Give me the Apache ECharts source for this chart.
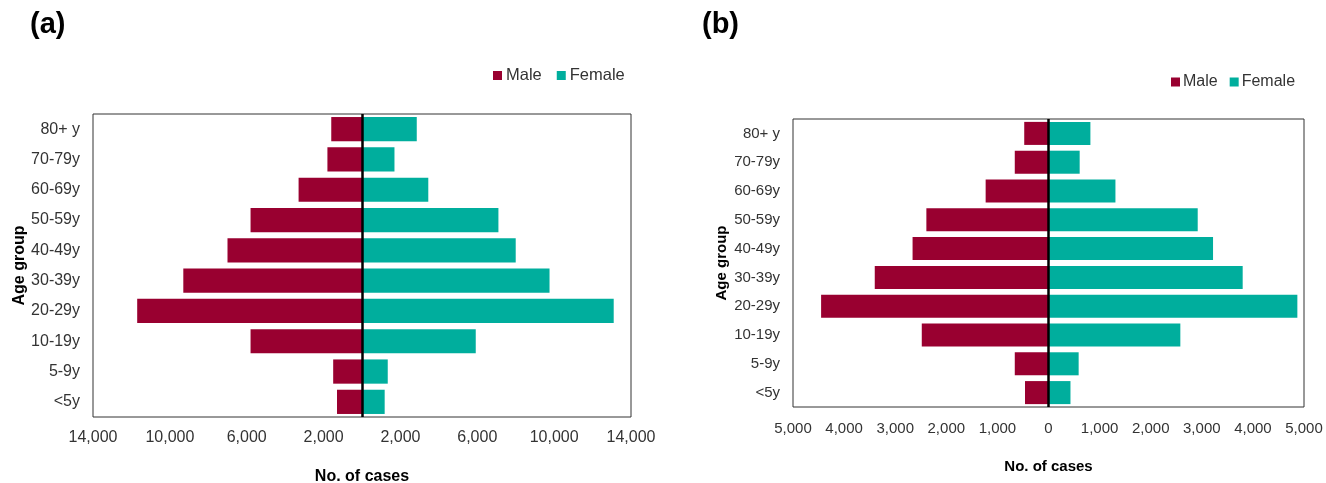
<!DOCTYPE html>
<html>
<head>
<meta charset="utf-8">
<script src="https://cdn.jsdelivr.net/npm/echarts@6/dist/echarts.min.js"></script>
<style>
html,body{margin:0;padding:0;background:#fff;}
#chart{width:1326px;height:483px;}
</style>
</head>
<body>
<div id="chart"></div>
<script>
// Data
const categories = ['<5y','5-9y','10-19y','20-29y','30-39y','40-49y','50-59y','60-69y','70-79y','80+ y'];
const maleA   = [1300, 1500, 5800, 11700, 9300, 7000, 5800, 3300, 1800, 1600];
const femaleA = [1180, 1340, 5920, 13100, 9760, 8000, 7100, 3450, 1690, 2850];
const maleB   = [460, 660, 2480, 4450, 3400, 2660, 2390, 1230, 660, 475];
const femaleB = [430, 590, 2580, 4870, 3800, 3220, 2920, 1310, 610, 820];
const ticksA  = [-14000, -10000, -6000, -2000, 2000, 6000, 10000, 14000];
const seriesNames = ['Male', 'Female'];
const panelTitles = ['(a)', '(b)'];

const MALE = '#990030';
const FEMALE = '#00AE9D';
const FONT = 'Liberation Sans, Arial, sans-serif';
const fmt = v => Math.abs(v).toLocaleString('en-US');

const chart = echarts.init(document.getElementById('chart'));

function barSeries(name, data, idx, color, negative, withLine) {
  const s = {
    name: name,
    type: 'bar',
    xAxisIndex: idx,
    yAxisIndex: idx,
    data: data.map(v => negative ? -v : v),
    barGap: '-100%',
    barCategoryGap: '20%',
    itemStyle: { color: color },
    animation: false
  };
  if (withLine) {
    s.markLine = {
      silent: true,
      symbol: ['none', 'none'],
      label: { show: false },
      lineStyle: { color: '#000', width: 2.5, type: 'solid' },
      data: [{ xAxis: 0 }],
      animation: false
    };
  }
  return s;
}

const option = {
  backgroundColor: '#fff',
  animation: false,
  textStyle: { fontFamily: FONT },
  title: [
    { text: panelTitles[0], left: 25, top: 5, textStyle: { fontSize: 29, fontWeight: 'bold', color: '#000', fontFamily: FONT } },
    { text: panelTitles[1], left: 697, top: 5, textStyle: { fontSize: 29, fontWeight: 'bold', color: '#000', fontFamily: FONT } }
  ],
  legend: [
    { data: seriesNames, left: 493, top: 67, padding: 0, icon: 'rect', itemWidth: 9, itemHeight: 9, itemGap: 15,
      textStyle: { fontSize: 16.5, color: '#333', fontFamily: FONT, padding: [0, 0, 0, -1] } },
    { data: seriesNames, left: 1171, top: 74, padding: 0, icon: 'rect', itemWidth: 9, itemHeight: 9, itemGap: 12,
      textStyle: { fontSize: 16, color: '#333', fontFamily: FONT, padding: [0, 0, 0, -2] } }
  ],
  grid: [
    { left: 93, top: 114, width: 538, height: 303, show: true, borderColor: '#333', borderWidth: 1,
      backgroundColor: 'transparent', containLabel: false, outerBoundsMode: 'none' },
    { left: 793, top: 119, width: 511, height: 288, show: true, borderColor: '#333', borderWidth: 1,
      backgroundColor: 'transparent', containLabel: false, outerBoundsMode: 'none' }
  ],
  xAxis: [
    { gridIndex: 0, type: 'value', min: -14000, max: 14000, interval: 2000,
      axisLine: { show: false }, axisTick: { show: false }, splitLine: { show: false },
      axisLabel: { fontSize: 16, color: '#333', margin: 13, fontFamily: FONT,
        formatter: v => ticksA.includes(v) ? fmt(v) : '' },
      name: 'No. of cases', nameLocation: 'middle', nameGap: 52,
      nameTextStyle: { fontSize: 16, fontWeight: 'bold', color: '#000', fontFamily: FONT } },
    { gridIndex: 1, type: 'value', min: -5000, max: 5000, interval: 1000,
      axisLine: { show: false }, axisTick: { show: false }, splitLine: { show: false },
      axisLabel: { fontSize: 15, color: '#333', margin: 14, fontFamily: FONT, formatter: fmt },
      name: 'No. of cases', nameLocation: 'middle', nameGap: 52,
      nameTextStyle: { fontSize: 15, fontWeight: 'bold', color: '#000', fontFamily: FONT } }
  ],
  yAxis: [
    { gridIndex: 0, type: 'category', data: categories,
      axisLine: { show: false }, axisTick: { show: false }, splitLine: { show: false },
      axisLabel: { fontSize: 16, color: '#333', margin: 13, fontFamily: FONT },
      name: 'Age group', nameLocation: 'middle', nameRotate: 90, nameGap: 62,
      nameTextStyle: { fontSize: 16, fontWeight: 'bold', color: '#000', fontFamily: FONT } },
    { gridIndex: 1, type: 'category', data: categories,
      axisLine: { show: false }, axisTick: { show: false }, splitLine: { show: false },
      axisLabel: { fontSize: 15, color: '#333', margin: 13, fontFamily: FONT },
      name: 'Age group', nameLocation: 'middle', nameRotate: 90, nameGap: 64,
      nameTextStyle: { fontSize: 15, fontWeight: 'bold', color: '#000', fontFamily: FONT } }
  ],
  series: [
    barSeries(seriesNames[0], maleA, 0, MALE, true, false),
    barSeries(seriesNames[1], femaleA, 0, FEMALE, false, true),
    barSeries(seriesNames[0], maleB, 1, MALE, true, false),
    barSeries(seriesNames[1], femaleB, 1, FEMALE, false, true)
  ]
};
chart.setOption(option);
</script>
</body>
</html>
